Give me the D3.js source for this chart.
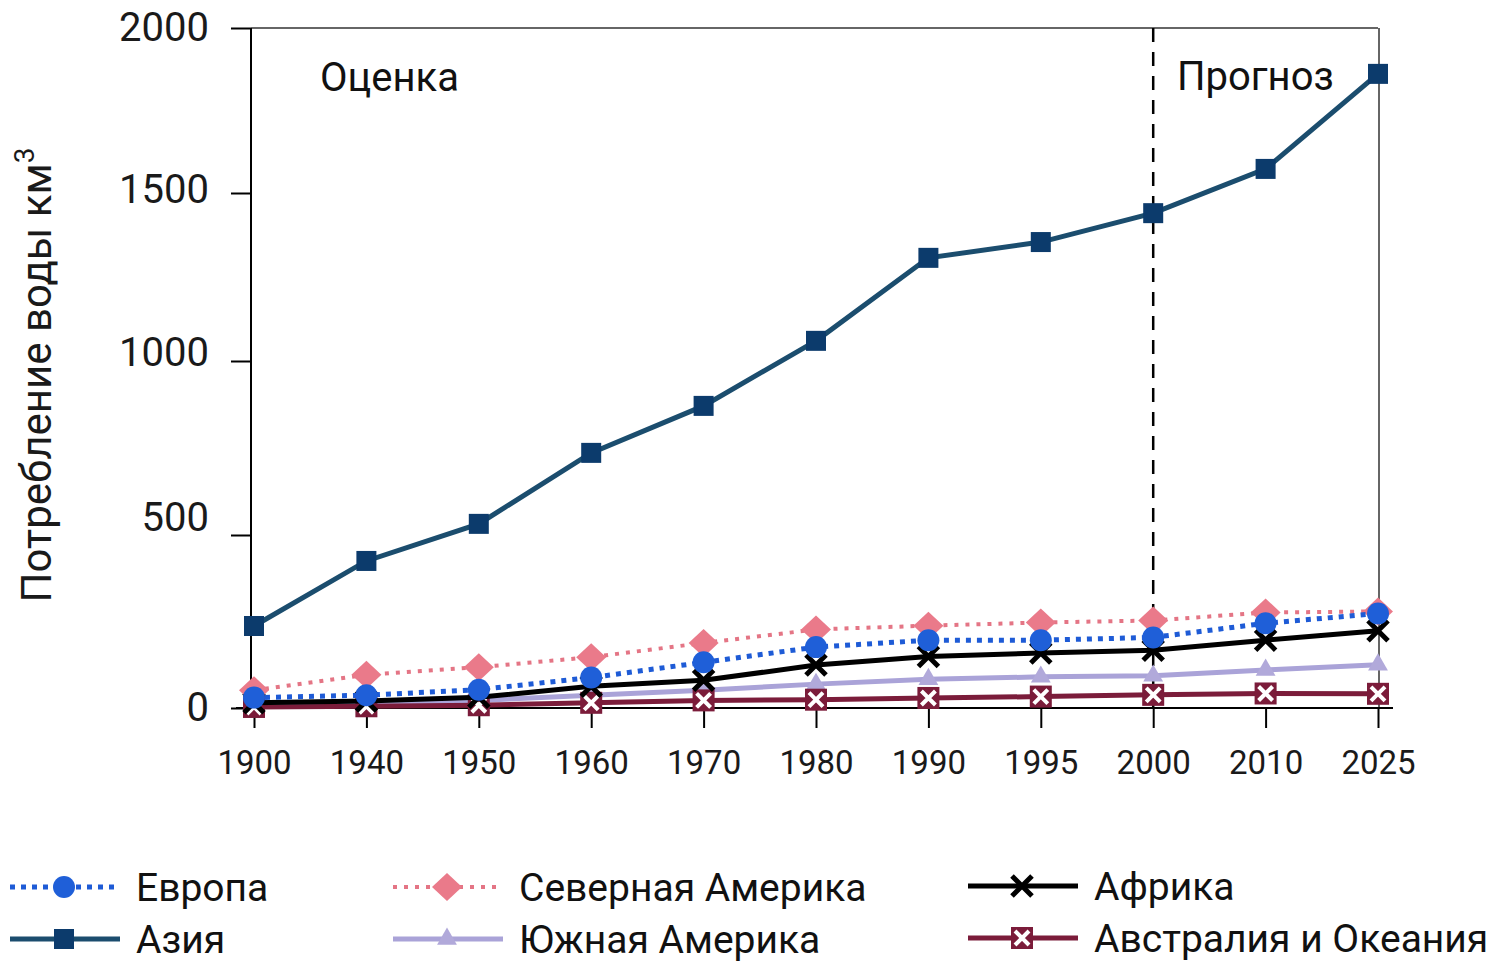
<!DOCTYPE html>
<html><head><meta charset="utf-8">
<script src="https://cdn.jsdelivr.net/npm/d3@7"></script>
<style>html,body{margin:0;padding:0;background:#fff;} svg{display:block;font-family:Roboto,"Noto Sans",sans-serif;}</style>
</head><body>
<svg id="c" width="1497" height="963"></svg>
<script>
const years = ["1900","1940","1950","1960","1970","1980","1990","1995","2000","2010","2025"];
const europe = [30, 37, 53, 88, 132, 176, 196, 196, 204, 245, 273];
const northAmerica = [51, 96, 118, 147, 188, 227, 238, 247, 253, 276, 279];
const asia = [237, 425, 532, 736, 871, 1060, 1307, 1354, 1440, 1573, 1861];
const africa = [15, 20, 31, 63, 80, 124, 149, 159, 167, 196, 223];
const southAmerica = [8, 12, 22, 37, 51, 69, 83, 90, 93, 110, 125];
const australia = [3, 5, 8, 15, 22, 24, 29, 33, 38, 42, 41];
const yTicks = [0, 500, 1000, 1500, 2000];
const seriesNames = ["Европа","Азия","Северная Америка","Южная Америка","Африка","Австралия и Океания"];
const forecastStart = "2000";

const svg = d3.select("#c");
const L = 251, R = 1378, T = 28, B = 708;
const x = d3.scalePoint().domain(years).range([254, 1378]);
// the printed axis is slightly uneven; follow its tick positions
const y = d3.scaleLinear().domain(yTicks).range([B, 535, 361, 193, T]);
const labelNudge = {0: 0, 500: -17, 1000: -8, 1500: -3, 2000: 0};

// frame
svg.append("line").attr("x1", L).attr("x2", R).attr("y1", T).attr("y2", T).attr("stroke", "#333").attr("stroke-width", 1.5);
svg.append("line").attr("x1", R+1).attr("x2", R+1).attr("y1", T).attr("y2", B).attr("stroke", "#333").attr("stroke-width", 1.5);

// y axis
const yAxis = d3.axisLeft(y).tickValues(yTicks).tickSize(20).tickPadding(22).tickFormat(d3.format("d"));
const gy = svg.append("g").attr("transform", `translate(${L},0)`).call(yAxis);
gy.select(".domain").attr("stroke", "#000").attr("stroke-width", 2).attr("d", `M0,${T}V${B}`);
gy.selectAll(".tick line").attr("stroke", "#000").attr("stroke-width", 2);
gy.selectAll(".tick text").attr("font-size", 40).attr("fill", "#1a1a1a").attr("font-family", "Roboto")
  .attr("y", d => labelNudge[d]);

// x axis
const xAxis = d3.axisBottom(x).tickSize(20).tickPadding(26);
const gx = svg.append("g").attr("transform", `translate(0,${B})`).call(xAxis);
gx.select(".domain").attr("stroke", "#000").attr("stroke-width", 2).attr("d", `M236,0H1393`);
gx.selectAll(".tick line").attr("stroke", "#000").attr("stroke-width", 2);
gx.selectAll(".tick text").attr("font-size", 33).attr("fill", "#1a1a1a").attr("font-family", "Roboto").attr("dy", "0.6em");

// forecast dashed line
svg.append("line").attr("x1", x(forecastStart)).attr("x2", x(forecastStart)).attr("y1", T).attr("y2", B)
  .attr("stroke", "#000").attr("stroke-width", 2.5).attr("stroke-dasharray", "14,10");

// labels
svg.append("text").attr("x", 320).attr("y", 91).attr("font-size", 40).attr("fill", "#111").text("Оценка");
svg.append("text").attr("x", 1177).attr("y", 90).attr("font-size", 40).attr("fill", "#111").text("Прогноз");

// y title
const yt = svg.append("text").attr("transform", "translate(51,375) rotate(-90)").attr("text-anchor", "middle")
  .attr("font-size", 42).attr("fill", "#1a1a1a");
yt.append("tspan").text("Потребление воды км");
yt.append("tspan").attr("font-size", 28).attr("dy", "-0.6em").text("3");

// marker generators
function diamondPath(w, h) { return `M0,${-h/2}L${w/2},0L0,${h/2}L${-w/2},0Z`; }
function crossPath(s) { return `M${-s},${-s}L${s},${s}M${s},${-s}L${-s},${s}`; }

const series = [
  {name: seriesNames[3], data: southAmerica, color: "#aaa3d8", width: 5, dash: null, marker: "triangle", mcolor: "#b1a9da"},
  {name: seriesNames[5], data: australia, color: "#7b1c3a", width: 5, dash: null, marker: "xsquare", mcolor: "#7b1c3a"},
  {name: seriesNames[4], data: africa, color: "#000", width: 5, dash: null, marker: "cross", mcolor: "#000"},
  {name: seriesNames[2], data: northAmerica, color: "#e47585", width: 4, dash: "4,7", marker: "diamond", mcolor: "#ea7a8a"},
  {name: seriesNames[0], data: europe, color: "#1e5bd6", width: 5, dash: "5,6", marker: "circle", mcolor: "#1f5fd8"},
  {name: seriesNames[1], data: asia, color: "#1b4d6e", width: 5, dash: null, marker: "square", mcolor: "#0c3b6c"}
];

function drawMarker(g, type, color, cx, cy, scale) {
  scale = scale || 1;
  const m = g.append("g").attr("transform", `translate(${cx},${cy}) scale(${scale})`);
  if (type === "circle") m.append("circle").attr("r", 11).attr("fill", color);
  else if (type === "square") m.append("rect").attr("x", -10).attr("y", -10).attr("width", 20).attr("height", 20).attr("fill", color);
  else if (type === "diamond") m.append("path").attr("d", diamondPath(30, 28)).attr("fill", color);
  else if (type === "triangle") m.append("path").attr("d", d3.symbol(d3.symbolTriangle, 170)()).attr("fill", color);
  else if (type === "cross") m.append("path").attr("d", crossPath(10)).attr("stroke", color).attr("stroke-width", 5).attr("fill", "none");
  else if (type === "xsquare") {
    m.append("rect").attr("x", -11).attr("y", -11).attr("width", 22).attr("height", 22).attr("fill", color);
    m.append("path").attr("d", crossPath(7)).attr("stroke", "#fff").attr("stroke-width", 4).attr("fill", "none");
  }
}

const line = d3.line().x((d, i) => x(years[i])).y(d => y(d));
series.forEach(s => {
  const g = svg.append("g");
  g.append("path").datum(s.data).attr("d", line).attr("fill", "none").attr("stroke", s.color)
    .attr("stroke-width", s.width).attr("stroke-dasharray", s.dash);
  s.data.forEach((v, i) => drawMarker(g, s.marker, s.mcolor, x(years[i]), y(v)));
});

// legend
const legendItems = [
  {s: series[4], lx: 10, ly: 887},
  {s: series[5], lx: 10, ly: 939},
  {s: series[3], lx: 393, ly: 887},
  {s: series[0], lx: 393, ly: 939},
  {s: series[2], lx: 968, ly: 886},
  {s: series[1], lx: 968, ly: 938}
];
legendItems.forEach(it => {
  const g = svg.append("g");
  g.append("line").attr("x1", it.lx).attr("x2", it.lx + 110).attr("y1", it.ly).attr("y2", it.ly)
    .attr("stroke", it.s.color).attr("stroke-width", it.s.width).attr("stroke-dasharray", it.s.dash);
  drawMarker(g, it.s.marker, it.s.mcolor, it.lx + 54, it.ly, 1);
  g.append("text").attr("x", it.lx + 126).attr("y", it.ly + 14).attr("font-size", 39).attr("fill", "#111").text(it.s.name);
});
</script>
</body></html>
